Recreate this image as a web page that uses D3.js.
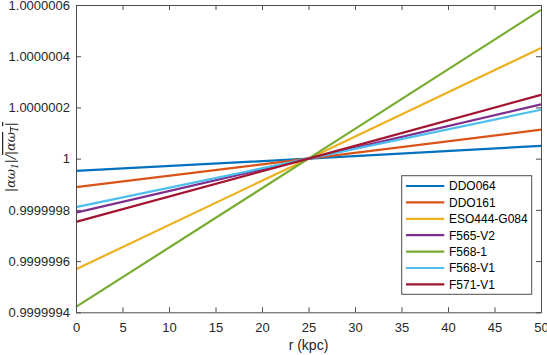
<!DOCTYPE html>
<html><head><meta charset="utf-8">
<script src="https://cdn.jsdelivr.net/npm/d3@7"></script>
<style>
body{margin:0;background:#fff;}
svg{display:block;font-family:"Liberation Sans",Arial,sans-serif;}
</style></head>
<body><svg id="c" width="547" height="355"></svg>
<script>
const names = ["DDO064","DDO161","ESO444-G084","F565-V2","F568-1","F568-V1","F571-V1"];
const colors = ["#0072BD","#D95319","#EDB120","#7E2F8E","#77AC30","#4DBEEE","#A2142F"];
const rValues = [0, 25, 50];
// deviation from 1 (units of 1e-7) at r = 0, 25, 50
const devDDO064 = [-0.48, 0, 0.50];
const devDDO161 = [-1.11, 0, 1.13];
const devESO444 = [-4.32, 0, 4.32];
const devF565V2 = [-2.11, 0, 2.12];
const devF5681  = [-5.79, 0, 5.81];
const devF568V1 = [-1.89, 0, 1.91];
const devF571V1 = [-2.47, 0, 2.49];
const seriesDev = [devDDO064, devDDO161, devESO444, devF565V2, devF5681, devF568V1, devF571V1];
const xTicks = [0,5,10,15,20,25,30,35,40,45,50];
const yTickVals = [-6,-4,-2,0,2,4,6];
const yTickLabels = ["0.9999994","0.9999996","0.9999998","1","1.0000002","1.0000004","1.0000006"];

const svg = d3.select("#c");
const L=76, R=541, T=5, B=312.3;
const x = d3.scaleLinear().domain([0,50]).range([L,R]);
const y = d3.scaleLinear().domain([-6,6]).range([B,T]);
const axisCol = "#4d4d4d";

// lines
const line = d3.line().x((d,i)=>x(rValues[i])).y(d=>y(d));
const g = svg.append("g");
seriesDev.forEach((s,k)=>{
  g.append("path").attr("d",line(s)).attr("fill","none")
   .attr("stroke",colors[k]).attr("stroke-width",2.2);
});

// axes
const xb = svg.append("g").attr("transform",`translate(0,${B})`)
  .call(d3.axisBottom(x).tickValues(xTicks).tickSizeInner(-5).tickSizeOuter(0).tickPadding(10));
const xt = svg.append("g").attr("transform",`translate(0,${T})`)
  .call(d3.axisTop(x).tickValues(xTicks).tickSizeInner(-5).tickSizeOuter(0).tickFormat(""));
const yl = svg.append("g").attr("transform",`translate(${L},0)`)
  .call(d3.axisLeft(y).tickValues(yTickVals).tickSizeInner(-5).tickSizeOuter(0).tickPadding(6)
    .tickFormat((d,i)=>yTickLabels[i]));
const yr = svg.append("g").attr("transform",`translate(${R},0)`)
  .call(d3.axisRight(y).tickValues(yTickVals).tickSizeInner(-5).tickSizeOuter(0).tickFormat(""));
[xb,xt,yl,yr].forEach(a=>{
  a.select(".domain").attr("stroke",axisCol).attr("stroke-width",1);
  a.selectAll(".tick line").attr("stroke",axisCol);
  a.selectAll("text").attr("fill","#262626").style("font-size","13px").style("font-family","'Liberation Sans',Arial,sans-serif");
});

// axis labels
svg.append("text").attr("x",x(25)).attr("y",350).attr("text-anchor","middle")
  .attr("fill","#262626").style("font-size","14px").text("r (kpc)");
const ylab = svg.append("text").attr("transform",`translate(15,157) rotate(-90)`)
  .attr("text-anchor","middle").attr("fill","#262626")
  .style("font-size","12.5px").style("font-style","italic").style("font-family","'DejaVu Serif',serif");
ylab.append("tspan").text("|αω");
ylab.append("tspan").attr("font-size","9px").attr("dy",3).text("1");
ylab.append("tspan").attr("dy",-3).text("|/");
ylab.append("tspan").style("text-decoration","overline").text("|αω");
ylab.append("tspan").style("text-decoration","overline").attr("font-size","9px").attr("dy",3).text("1");
ylab.append("tspan").style("text-decoration","overline").attr("dy",-3).text("|");

// legend
const lx=401.7, ly=175.7, lw=130, lh=118.6;
svg.append("rect").attr("x",lx).attr("y",ly).attr("width",lw).attr("height",lh)
  .attr("fill","#fff").attr("stroke",axisCol).attr("stroke-width",1);
names.forEach((n,k)=>{
  const cy = ly + 10.3 + k*16.4;
  svg.append("line").attr("x1",406).attr("x2",444.3).attr("y1",cy).attr("y2",cy)
    .attr("stroke",colors[k]).attr("stroke-width",2.2);
  svg.append("text").attr("x",449).attr("y",cy+4.3).attr("fill","#000")
    .style("font-size","12px").text(n);
});
</script></body></html>
